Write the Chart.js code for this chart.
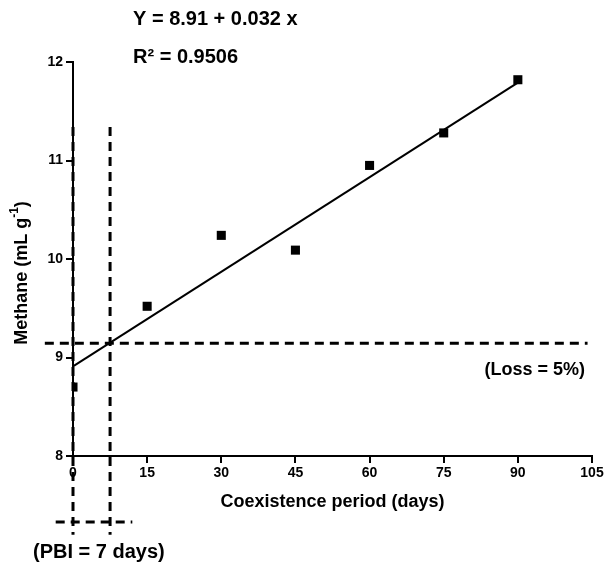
<!DOCTYPE html>
<html><head><meta charset="utf-8">
<script src="https://cdn.jsdelivr.net/npm/chart.js@4/dist/chart.umd.min.js"></script>
<style>html,body{margin:0;padding:0;background:#fff}#wrap{width:606px;height:564px}</style>
</head><body><div id="wrap"><canvas id="c" width="606" height="564"></canvas></div>
<script>
// ---- data ----
const days = [0, 15, 30, 45, 60, 75, 90];
const methane = [8.70, 9.52, 10.24, 10.09, 10.95, 11.28, 11.82];
const fitDays = [0, 90];
const fitMethane = [8.91, 11.79];
const lossDays = [-5.7, 104.1];
const lossLevel = [9.145, 9.145];
const pbiLeftDays = [0, 0];
const pbiRightDays = [7.5, 7.5];
const pbiGuideY = [11.34, 7.2];
const pbiBaseDays = [-3.5, 12];
const pbiBaseY = [7.33, 7.33];
const xTicks = [0, 15, 30, 45, 60, 75, 90, 105];
const yTicks = [8, 9, 10, 11, 12];
const equationText = 'Y = 8.91 + 0.032 x';
const r2Label = 'R² = 0.9506';
const lossText = '(Loss = 5%)';
const pbiText = '(PBI = 7 days)';
const xTitle = 'Coexistence period (days)';

const FONT = '"Liberation Sans", Arial, Helvetica, sans-serif';
const pts = (xs, ys) => xs.map((x, i) => ({x: x, y: ys[i]}));

const dashed = (data) => ({
  data: data, showLine: true, borderColor: '#000', borderWidth: 3,
  borderDash: [9, 6], pointRadius: 0, clip: false, fill: false
});

const textPlugin = {
  id: 'texts',
  afterDraw(chart) {
    const ctx = chart.ctx;
    ctx.save();
    ctx.fillStyle = '#000';
    ctx.textBaseline = 'middle';
    ctx.font = 'bold 20px ' + FONT;
    ctx.textAlign = 'left';
    ctx.fillText(equationText, 133, 19);
    ctx.fillText(r2Label, 133, 57);
    ctx.font = 'bold 18px ' + FONT;
    ctx.textAlign = 'right';
    ctx.fillText(lossText, 585, 370);
    ctx.font = 'bold 20px ' + FONT;
    ctx.textAlign = 'left';
    ctx.fillText(pbiText, 33, 552);
    // y-axis title with superscript
    ctx.translate(22, 273);
    ctx.rotate(-Math.PI / 2);
    const main = 'Methane (mL g';
    const sup = '-1';
    const close = ')';
    ctx.font = 'bold 18px ' + FONT;
    const w1 = ctx.measureText(main).width;
    const w3 = ctx.measureText(close).width;
    ctx.font = 'bold 12px ' + FONT;
    const w2 = ctx.measureText(sup).width;
    const total = w1 + w2 + w3;
    let x0 = -total / 2;
    ctx.textAlign = 'left';
    ctx.font = 'bold 18px ' + FONT;
    ctx.fillText(main, x0, 0);
    ctx.font = 'bold 12px ' + FONT;
    ctx.fillText(sup, x0 + w1, -7);
    ctx.font = 'bold 18px ' + FONT;
    ctx.fillText(close, x0 + w1 + w2, 0);
    ctx.restore();
  }
};

new Chart(document.getElementById('c'), {
  type: 'scatter',
  data: {
    datasets: [
      dashed(pts(lossDays, lossLevel)),
      dashed(pts(pbiLeftDays, pbiGuideY)),
      dashed(pts(pbiRightDays, pbiGuideY)),
      dashed(pts(pbiBaseDays, pbiBaseY)),
      { data: pts(fitDays, fitMethane), showLine: true, borderColor: '#000', borderWidth: 2,
        pointRadius: 0, clip: false },
      { data: pts(days, methane), pointStyle: 'rect', pointRadius: 6.4,
        backgroundColor: '#000', borderWidth: 0, clip: 0 }
    ]
  },
  options: {
    responsive: false, animation: false, devicePixelRatio: 1,
    layout: { padding: { top: 62, right: 14, left: 0, bottom: 0 } },
    plugins: { legend: { display: false }, tooltip: { enabled: false } },
    scales: {
      x: {
        type: 'linear', min: 0, max: 105,
        afterBuildTicks: s => { s.ticks = xTicks.map(v => ({value: v})); },
        afterFit: s => { s.height = 108; s.paddingLeft = 0; s.paddingRight = 0; },
        ticks: { color: '#000', font: { family: FONT, weight: 'bold', size: 14 }, padding: 2, maxRotation: 0 },
        grid: { drawOnChartArea: false, drawTicks: true, tickLength: 7, color: '#000', lineWidth: 2 },
        border: { color: '#000', width: 2 },
        title: { display: true, text: xTitle, color: '#000',
                 font: { family: FONT, weight: 'bold', size: 18 }, padding: { top: 0, bottom: 51 } }
      },
      y: {
        type: 'linear', min: 8, max: 12,
        afterBuildTicks: s => { s.ticks = yTicks.map(v => ({value: v})); },
        afterFit: s => { s.width = 73; s.paddingTop = 0; s.paddingBottom = 0; },
        ticks: { color: '#000', font: { family: FONT, weight: 'bold', size: 14 }, padding: 3 },
        grid: { drawOnChartArea: false, drawTicks: true, tickLength: 7, color: '#000', lineWidth: 2 },
        border: { color: '#000', width: 2 }
      }
    }
  },
  plugins: [textPlugin]
});
</script></body></html>
